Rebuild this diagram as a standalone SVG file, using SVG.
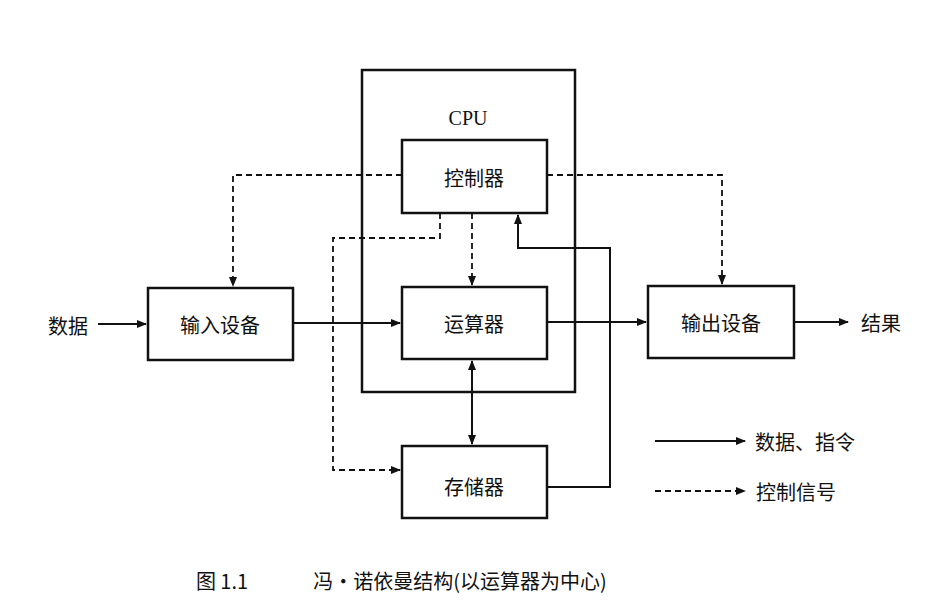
<svg xmlns="http://www.w3.org/2000/svg" width="929" height="616" viewBox="0 0 929 616">
<style>
.b{fill:none;stroke:#111;stroke-width:2.5}
.s{fill:none;stroke:#111;stroke-width:2}
.d{fill:none;stroke:#111;stroke-width:1.8;stroke-dasharray:6,4}
text{font-family:"Noto Sans CJK SC","Liberation Serif",serif;font-size:20px;fill:#111;text-anchor:middle;dominant-baseline:central}
</style>
<defs>
<marker id="a" markerWidth="10" markerHeight="8" refX="9" refY="4" orient="auto-start-reverse" markerUnits="userSpaceOnUse"><path d="M0,0L10,4L0,8z" fill="#111"/></marker>
</defs>
<rect width="929" height="616" fill="#fff"/>
<g id="cpu"><rect class="b" x="362" y="70" width="213" height="322"/><text x="468" y="118" style="font-family:'Liberation Serif',serif">CPU</text></g>
<g id="ctrl"><rect class="b" x="402" y="140" width="145" height="73"/><text x="474" y="177">控制器</text></g>
<g id="alu"><rect class="b" x="402" y="287" width="145" height="72"/><text x="474" y="323">运算器</text></g>
<g id="mem"><rect class="b" x="402" y="446" width="145" height="72"/><text x="474" y="486">存储器</text></g>
<g id="in"><rect class="b" x="148" y="288" width="145" height="72"/><text x="220" y="324">输入设备</text></g>
<g id="out"><rect class="b" x="648" y="286" width="146" height="72"/><text x="721" y="322">输出设备</text></g>
<g id="labels">
<text x="68" y="325">数据</text><text x="881" y="322">结果</text>
<text x="805" y="441">数据、指令</text><text x="796" y="491">控制信号</text>
<text x="222" y="580">图 1.1</text>
<text x="460" y="580">冯·诺依曼结构(以运算器为中心)</text>
</g>
<g id="connectors">
<path class="s" d="M98,324H146" marker-end="url(#a)"/>
<path class="s" d="M794,322H848" marker-end="url(#a)"/>
<path class="s" d="M293,323H400" marker-end="url(#a)"/>
<path class="s" d="M547,322H646" marker-end="url(#a)"/>
<path class="s" d="M472,361V444" marker-start="url(#a)" marker-end="url(#a)"/>
<path class="s" d="M547,487H610V248H518V215" marker-end="url(#a)"/>
<path class="d" d="M402,175H233V286" marker-end="url(#a)"/>
<path class="d" d="M547,175H722V284" marker-end="url(#a)"/>
<path class="d" d="M472,213V285" marker-end="url(#a)"/>
<path class="d" d="M440,213V238H333V470H400" marker-end="url(#a)"/>
<path class="s" d="M655,441H745" marker-end="url(#a)"/>
<path class="d" d="M655,491H745" marker-end="url(#a)"/>
</g>
</svg>
